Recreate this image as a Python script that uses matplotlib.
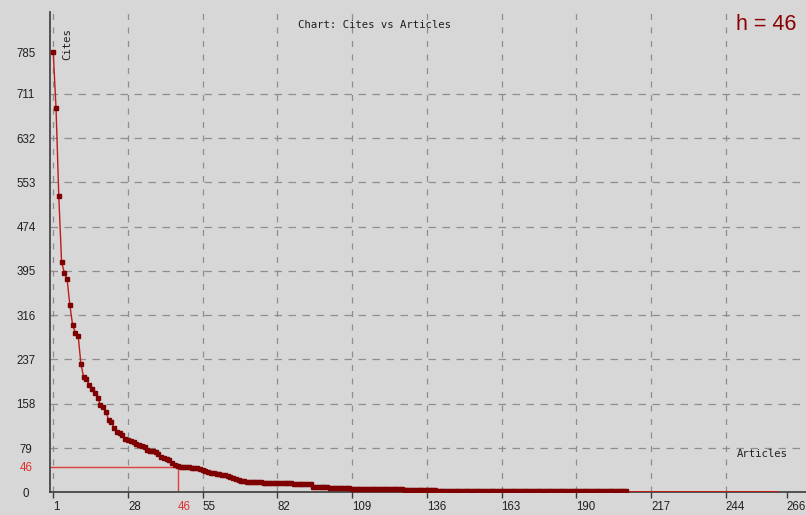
import matplotlib
matplotlib.use("Agg")
import matplotlib.pyplot as plt

# ---- data ----
head_cites = [785, 685, 528, 411, 392, 380, 334, 298, 285, 279, 229, 205, 203,
              191, 184, 178, 169, 156, 153, 144, 129, 126, 114, 108, 105, 102,
              95, 93, 91, 89, 87, 85, 82, 80, 75, 74, 73, 72, 68, 63, 61, 59,
              58, 52, 48, 47, 46, 46, 46, 45, 44, 44, 43, 41, 39, 38, 36, 35,
              34, 33, 32, 31, 30, 29, 27, 25, 23, 22, 21, 20, 19, 19]
tail_values = [18, 17, 16, 15, 10, 9, 8, 7, 6, 5, 4, 3, 2, 1]
tail_counts = [4, 4, 7, 7, 3, 3, 2, 6, 7, 12, 12, 35, 34, 55]
h_index = 46
x_ticks = [1, 28, 55, 82, 109, 136, 163, 190, 217, 244, 266]
y_ticks = [0, 79, 158, 237, 316, 395, 474, 553, 632, 711, 785]

cites = head_cites + [v for v, c in zip(tail_values, tail_counts) for _ in range(c)]
articles = list(range(1, len(cites) + 1))
n_marked = sum(1 for v in cites if v > 1)

bg = '#d7d7d7'
W, H = 806, 515
fig = plt.figure(figsize=(W / 100, H / 100), dpi=100, facecolor=bg)
left, right, top, bottom = 50.5, 806, 12, 492.3
ax = fig.add_axes([left / W, (H - bottom) / H, (right - left) / W, (bottom - top) / H])
ax.set_facecolor(bg)
ax.set_xlim(0, 273)
ax.set_ylim(0, 857)

for s in ['top', 'right']:
    ax.spines[s].set_visible(False)
for s in ['left', 'bottom']:
    ax.spines[s].set_color('#3a3a3a')
    ax.spines[s].set_linewidth(1.2)

# grid
gcol = '#8e8e8e'
for x in x_ticks[:-1]:
    ax.axvline(x, color=gcol, lw=0.9, dashes=(4.8, 6.0), zorder=1)
for y in y_ticks[1:-1]:
    ax.axhline(y, color=gcol, lw=0.9, dashes=(6.0, 5.2), zorder=1)

# h-index guide lines
ax.plot([0, h_index], [h_index, h_index], color='#e04040', lw=1.0, zorder=2)
ax.plot([h_index, h_index], [0, h_index], color='#e04040', lw=1.0, zorder=2)

# data
ax.plot(articles, cites, color='#c01a1a', lw=1.0, zorder=3)
ax.plot(articles[:n_marked], cites[:n_marked], ls='none', marker='s', ms=2.2,
        mfc='#7e0000', mec='#7e0000', zorder=4)

# ticks
xt = x_ticks + [h_index]
ax.set_xticks(xt)
ax.set_xticklabels([str(v) for v in xt], fontsize=8.3, family='Liberation Sans')
for lab in ax.get_xticklabels():
    lab.set_ha('left')
ax.tick_params(axis='x', direction='out', length=4, width=1, color='#3a3a3a',
               pad=2.5, labelcolor='#202020')
xt_objs = ax.xaxis.get_major_ticks()
xt_objs[-1].tick1line.set_visible(False)
xt_objs[-1].label1.set_color('#e03030')

yt = y_ticks + [h_index]
ax.set_yticks(yt)
ax.set_yticklabels([str(v) for v in yt], fontsize=8.3, family='Liberation Sans')
ax.tick_params(axis='y', length=0, pad=17.6, labelcolor='#202020')
for lab in ax.get_yticklabels():
    lab.set_ha('center')
ax.yaxis.get_major_ticks()[-1].label1.set_color('#e03030')

# texts
mono = 'DejaVu Sans Mono'
fig.text(375 / W, 1 - 25 / H, 'Chart: Cites vs Articles', family=mono, fontsize=7.7,
         ha='center', va='center', color='#202020')
fig.text(67 / W, 1 - 44 / H, 'Cites', family=mono, fontsize=7.7, rotation=90,
         ha='center', va='center', color='#202020')
fig.text(762 / W, 1 - 454 / H, 'Articles', family=mono, fontsize=7.7,
         ha='center', va='center', color='#202020')
fig.text(766 / W, 1 - 24 / H, f'h = {h_index}', family='Liberation Sans', fontsize=15.5,
         ha='center', va='center', color='#8b0000')

fig.savefig('out.png', dpi=100, facecolor=bg)
